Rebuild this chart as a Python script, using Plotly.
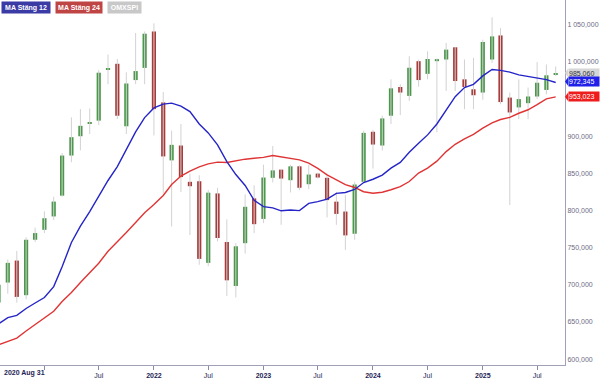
import plotly.graph_objects as go
import pandas as pd

# ---------------- data ----------------
dates = pd.date_range("2020-08-01", "2025-09-01", freq="MS")

open_ = [676, 703, 732.6, 686, 760.6, 774, 792, 820, 874, 900, 916.8, 921, 990, 997.5, 913.4, 975.6, 992,
         1041, 945.5, 867.5, 887.5, 838.6, 839.4, 729.5, 823, 757.6, 698.4, 756, 816.3,
         788.7, 844, 855, 840.8, 859.5, 835.4, 849.7, 844, 811.9, 798.6, 768.7, 838.6,
         906, 887.5, 927.6, 966.3, 954.3, 1001, 984, 1001, 1003.3, 1019.7, 976.6, 963.2,
         958.8, 1003.3, 1035.7, 952, 938.8, 944.5, 953.5, 962.3, 983]
high = [703, 734, 745.5, 764, 777, 799, 818.6, 877.4, 925.4, 936.5, 937.4, 989, 1010, 1004, 986, 1039, 1041,
        1052, 959.6, 907.5, 916.5, 849.7, 847.5, 827.4, 830.6, 788, 756, 821.7, 834,
        861.7, 886.7, 856, 861.7, 860.8, 861.7, 851, 849.7, 825, 820.7, 838.6, 907.5,
        908.5, 927.6, 976.6, 970, 1007.7, 1003, 1014.4, 1004.5, 1025.6, 1020, 1003.3, 1005.5,
        1030, 1060, 1045.6, 958.8, 976.6, 965.5, 999.7, 996.6, 994]
low = [672, 688, 676, 680.5, 757.6, 769.6, 787, 818.6, 865, 881, 903, 915, 970, 923, 903, 970, 970,
       901, 823, 778.5, 825, 767, 727, 725, 758.5, 685, 683, 742, 769.6,
       783, 837.7, 780.7, 824.3, 827.4, 828.7, 843, 790.6, 780.7, 747, 760.6, 836.4,
       856.4, 880.8, 916.5, 928.5, 947.6, 966.8, 976.6, 905.4, 961, 961, 936.5, 936.5,
       949, 998.8, 943, 807.4, 923, 923, 950, 956.5, 981]
close = [700, 729.5, 683.7, 760.6, 769.6, 789.6, 812, 874, 898.7, 914, 918, 985.5, 991.5, 927.6, 971, 987.7, 1038,
         936.5, 872.8, 888.4, 845, 832.7, 734.9, 824, 763, 706, 751.8, 805, 781.6,
         844.4, 854, 843, 859.5, 830.6, 848.4, 844.4, 814, 795.4, 766.5, 835, 904.5,
         888.8, 924, 964.5, 958.8, 992.2, 975.6, 1004, 1003.8, 1016.6, 974.3, 966.3, 955.2,
         1026.9, 1034.4, 946, 932, 950, 953.5, 972, 982, 985.06]

ma12 = [647.4, 655.7, 658.8, 668.1, 675.5, 682.8, 697.5, 724.2, 756.9, 778.9, 798.6, 819, 840.4, 859.1,
        881.8, 905.8, 925.1, 938.1, 943.2, 944.5, 940.5, 933.2, 916.5, 904.5, 888.4, 865.7, 848.4,
        833.7, 813.7, 805.2, 803.6, 799.6, 800.7, 799.9, 809.6, 811.9, 815.4, 823, 824.3, 828.3,
        837.7, 842.1, 847.7, 857, 864.7, 878.4, 890.4, 901.8, 916.5, 935.2, 953.2, 965.5, 969.9,
        981.2, 989.9, 988.6, 986.3, 982.6, 980.3, 978.2, 976.2, 972.345]
ma24 = [619.2, 623.9, 628.3, 637.8, 646.7, 654.8, 664.4, 677.5, 689.6, 703.1, 716.2, 729.1, 745.1, 757.6,
        770.3, 783.9, 797, 808, 820.3, 835, 846.4, 853, 858.7, 862.7, 865.1, 864.7, 867.1, 869.1,
        870.4, 871.5, 874, 872.4, 870.3, 868.1, 863.7, 856.6, 848, 841, 834.9, 831, 825.3, 823.3,
        824.6, 827.9, 832.1, 839, 850.4, 857, 866.4, 879.3, 889.1, 896.4, 902.5, 911, 918.1, 922.5,
        925.4, 930.9, 935.6, 942.5, 950.3, 953.023]

# 950,000 is hidden behind the value tags in the reference
y_tick_vals = [600, 650, 700, 750, 800, 850, 900, 1000, 1050]
y_tick_text = ["600,000", "650,000", "700,000", "750,000", "800,000", "850,000",
               "900,000", "1 000,000", "1 050,000"]
x_tick_vals = ["2021-01-01", "2021-07-01", "2022-01-01", "2022-07-01", "2023-01-01",
               "2023-07-01", "2024-01-01", "2024-07-01", "2025-01-01", "2025-07-01"]
x_tick_text = ["", "Jul", "<b>2022</b>", "Jul", "<b>2023</b>", "Jul",
               "<b>2024</b>", "Jul", "<b>2025</b>", "Jul"]
start_label = "2020 Aug 31"
legend_names = ["MA Stäng 12", "MA Stäng 24", "OMXSPI"]

# ---------------- styling ----------------
GREEN = "#4b974b"
RED = "#a83a3a"
WICK = "#d2d2d2"
BLUE_LINE = "#2424c8"
RED_LINE = "#e03434"
FONT = "Liberation Sans"

body_base = [min(o, c) for o, c in zip(open_, close)]
body_len = [max(abs(c - o), 1.8) for o, c in zip(open_, close)]
body_col = [GREEN if c >= o else RED for o, c in zip(open_, close)]

wick_x, wick_y = [], []
for d, lo, hi in zip(dates, low, high):
    wick_x += [d, d, None]
    wick_y += [lo, hi, None]

fig = go.Figure()
fig.add_trace(go.Scatter(x=wick_x, y=wick_y, mode="lines",
                         line=dict(color=WICK, width=1), hoverinfo="skip"))
fig.add_trace(go.Bar(x=dates, y=body_len, base=body_base,
                     marker=dict(color=body_col, line=dict(width=0)),
                     width=14 * 86400000))
fig.add_trace(go.Scatter(x=dates, y=ma24, mode="lines",
                         line=dict(color=RED_LINE, width=1.4)))
fig.add_trace(go.Scatter(x=dates, y=ma12, mode="lines",
                         line=dict(color=BLUE_LINE, width=1.4)))

fig.update_layout(
    width=600, height=379,
    margin=dict(l=0, r=35, t=0, b=11),
    paper_bgcolor="white", plot_bgcolor="white",
    showlegend=False,
    font=dict(family=FONT),
    xaxis=dict(type="date", range=["2020-08-06", "2025-10-02"],
               tickmode="array", tickvals=x_tick_vals, ticktext=x_tick_text,
               ticks="outside", ticklen=4, tickcolor="#8a8aa8", tickwidth=1,
               showline=True, linecolor="#a0a0b8", linewidth=1,
               showgrid=False, zeroline=False,
               tickfont=dict(family=FONT, size=7, color="#1e1e55")),
    yaxis=dict(side="right", range=[592, 1083.4],
               tickmode="array", tickvals=y_tick_vals, ticktext=y_tick_text,
               ticks="", showline=True, linecolor="#a0a0b8", linewidth=1,
               showgrid=False, zeroline=False,
               tickfont=dict(family=FONT, size=7, color="#6c6c84")),
)

W, H = 565.0, 368.0
annotations = []
# start-date label
annotations.append(dict(xref="paper", yref="paper", x=2 / W, y=-(376 - H) / H,
                        xanchor="left", yanchor="middle", showarrow=False,
                        text="<b>" + start_label + "</b>",
                        font=dict(family=FONT, size=7, color="#1e1e55")))
# legend badges
badges = [(1, 48, "#3b3ba6"), (55, 46, "#bf4444"), (107, 33, "#c8c8c8")]
for name, (bx, bw, bc) in zip(legend_names, badges):
    annotations.append(dict(xref="paper", yref="paper", x=bx / W, y=1 - 1 / H,
                            xanchor="left", yanchor="top", showarrow=False,
                            text="<b>" + name + "</b>", width=bw, height=11,
                            bgcolor=bc, borderpad=0,
                            font=dict(family=FONT, size=7, color="white")))
# last-value tags
tags = [(close[-1], 985.06, "#d6d6d6", "#333344"),
        (ma12[-1], 973.6, "#2020e8", "white"),
        (ma24[-1], 953.0, "#ee1c1c", "white")]
shapes = []
for val, ypos, bg, fc in tags:
    txt = f"{val:,.3f}".replace(",", " ").replace(".", ",")
    annotations.append(dict(xref="paper", yref="y", x=1 + 3 / W, y=ypos,
                            xanchor="left", yanchor="middle", showarrow=False,
                            text=txt, width=30, height=9, bgcolor=bg, borderpad=0,
                            align="left",
                            font=dict(family=FONT, size=7, color=fc)))
    d = 4.5 / 0.7489
    shapes.append(dict(type="path", xref="paper", yref="y", layer="above",
                       path=f"M 1,{ypos} L {1 + 3.2 / W},{ypos + d} L {1 + 3.2 / W},{ypos - d} Z",
                       fillcolor=bg, line=dict(width=0)))
fig.update_layout(annotations=annotations, shapes=shapes)

fig.write_html("out.html", config={"displayModeBar": False},
               post_script="document.body.style.margin='0px';")
